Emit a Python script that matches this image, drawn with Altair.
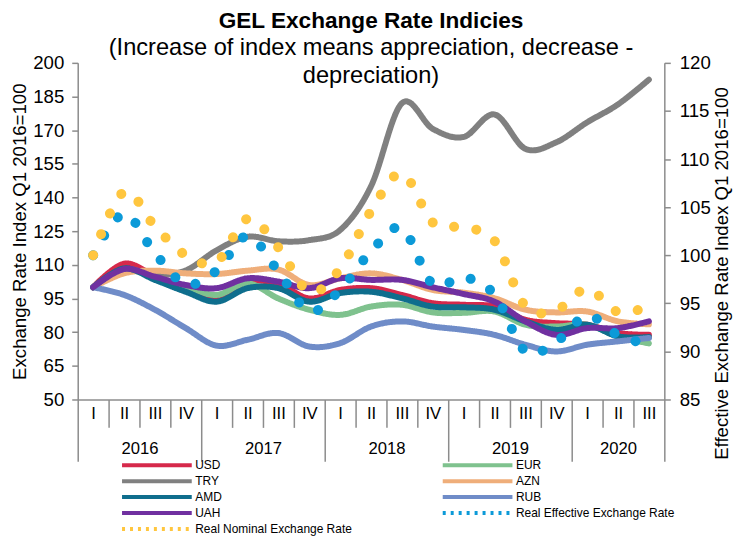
import altair as alt
import pandas as pd

# ---------------- data ----------------
quarters = ["I", "II", "III", "IV", "I", "II", "III", "IV", "I", "II", "III", "IV",
            "I", "II", "III", "IV", "I", "II", "III"]
years = ["2016", "2017", "2018", "2019", "2020"]
year_centers = [2, 6, 10, 14, 17.5]

usd = [100, 110.5, 105, 99.5, 95, 102.5, 101.5, 95, 98.8, 99.6, 96.6, 92.9, 92.2, 91.4, 85.5, 84, 83.3, 79.6, 78.8]
eur = [100, 108, 104.5, 100.3, 96.6, 101.8, 95, 90, 87.7, 91.4, 92.2, 88.8, 88.6, 89.2, 83.3, 82.5, 83.3, 78.1, 75]
try_ = [100, 107.5, 105.5, 107.5, 116.5, 122.5, 120.5, 121, 125.5, 145, 182, 170.6, 167, 177, 161.7, 164.6, 173.5, 181.5, 192.5]
azn = [100, 106.2, 107.4, 106.2, 105.9, 107.4, 107.9, 101, 104, 106.2, 103.3, 98.8, 97.6, 95.1, 90, 88.8, 89.2, 84.8, 83.5]
amd = [100, 108.4, 103.3, 98, 93.6, 99.6, 99.6, 93.6, 97.4, 98, 95.1, 91.4, 91.1, 90, 84.8, 81, 83.3, 78.1, 77.8]
rub = [100, 96.6, 90, 81.8, 74, 76.6, 79.6, 73.6, 75.1, 82.5, 84.8, 82.5, 81, 78.8, 74.4, 71.4, 74.4, 75.9, 77.4]
uah = [100, 108.1, 104.7, 101, 99.6, 104, 102.5, 99.6, 104, 103.3, 103.3, 100, 97, 93.6, 84.8, 78.8, 81.8, 81.8, 84.8]
real_eff = [100, 104.3, 100.2, 97.0, 98.4, 102.0, 98.3, 94.2, 96.4, 100.4, 102.8, 97.0, 97.7, 95.9, 90.0, 91.0, 93.7, 91.7, 90.7]
real_nom = [100, 106.6, 103.0, 100.0, 99.3, 103.8, 100.8, 96.2, 98.6, 104.6, 108.5, 103.4, 102.9, 101.5, 94.7, 94.3, 96.5, 94.1, 94.7]

# legend order (filled column by column)
legend_names = ["USD", "TRY", "AMD", "UAH", "Real Nominal Exchange Rate",
                "EUR", "AZN", "RUB", "Real Effective Exchange Rate"]
legend_colors = ["#D6294B", "#808080", "#0F6E8D", "#7030A0", "#FFC63F",
                 "#7FC28E", "#EFAE7A", "#6F8CC8", "#0C9AD8"]
legend_dashes = [[1, 0], [1, 0], [1, 0], [1, 0], [3, 5],
                 [1, 0], [1, 0], [1, 0], [3, 5]]

# drawing order (later on top)
solid = {"USD": usd, "EUR": eur, "TRY": try_, "AZN": azn, "AMD": amd, "RUB": rub, "UAH": uah}
dotted = {"Real Effective Exchange Rate": real_eff, "Real Nominal Exchange Rate": real_nom}


def frame(d):
    rows = []
    for name, vals in d.items():
        for i, v in enumerate(vals):
            rows.append({"series": name, "pos": i + 0.5, "value": v})
    return pd.DataFrame(rows)


lines_df = frame(solid)
dots_df = frame(dotted)

FONT = "Liberation Sans"
AXIS_GRAY = "#8C8C8C"
W, H = 589, 338

xscale = alt.Scale(domain=[0, len(quarters)], nice=False, zero=False)
color_scale = alt.Scale(domain=legend_names, range=legend_colors)
dash_scale = alt.Scale(domain=legend_names, range=legend_dashes)

# wide, flat custom legend symbol (path in [-10,10] units, scaled by sqrt(size)/2 = 3.5)
legend = alt.Legend(
    title=None, orient="none", legendX=73.5, legendY=398, columns=2, columnPadding=83,
    symbolType="M-10,0L10,0", symbolSize=49, symbolStrokeWidth=4, labelFont=FONT,
    labelFontSize=12, labelColor="#000", labelOffset=32.5, rowPadding=0, labelLimit=400,
)

long_tick = "datum.value % 4 == 0 || datum.value == 19"
q_label_expr = "[" + ",".join("'%s'" % q for q in quarters) + ",''][floor(datum.value)]"
quarter_axis = alt.Axis(
    orient="bottom", values=list(range(len(quarters) + 1)), labelExpr=q_label_expr,
    labelOffset=15.5, labelFont=FONT, labelFontSize=16.7, labelColor="#000",
    labelPadding={"condition": {"test": long_tick, "value": -56}, "value": -22},
    tickColor=AXIS_GRAY, tickWidth=1.5, domainColor=AXIS_GRAY, domainWidth=1.5,
    tickSize={"condition": {"test": long_tick, "value": 62}, "value": 28},
    title=None, grid=False, labelFlush=False, labelOverlap=False,
)
yr_expr = " : ".join("datum.value == %s ? '%s'" % (c, y) for c, y in zip(year_centers, years)) + " : ''"
year_axis = alt.Axis(
    orient="bottom", values=year_centers, labelExpr=yr_expr, ticks=False, domain=False,
    labelPadding=41, labelFont=FONT, labelFontSize=16.7, labelColor="#000",
    title=None, grid=False, labelFlush=False, labelOverlap=False,
)

left_axis = alt.Axis(
    orient="left", values=list(range(50, 201, 15)), title="Exchange Rate Index Q1 2016=100",
    titleFont=FONT, titleFontSize=18.7, titleFontWeight="normal", titleColor="#000",
    titleAngle=270, titleX=-58, titleY=169, titleAlign="center", titleBaseline="middle",
    labelFont=FONT, labelFontSize=18.7, labelColor="#000", labelPadding=8,
    tickColor=AXIS_GRAY, tickSize=6, tickWidth=1.5, domainColor=AXIS_GRAY, domainWidth=1.5,
    grid=False, labelFlush=False,
)
right_axis = alt.Axis(
    orient="right", values=list(range(85, 121, 5)), title="Effective Exchange Rate Index Q1 2016=100",
    titleFont=FONT, titleFontSize=18.7, titleFontWeight="normal", titleColor="#000",
    titleAngle=270, titleX=57, titleY=211, titleAlign="center", titleBaseline="middle",
    labelFont=FONT, labelFontSize=18.7, labelColor="#000", labelPadding=9,
    tickColor=AXIS_GRAY, tickSize=6, tickWidth=1.5, domainColor=AXIS_GRAY, domainWidth=1.5,
    grid=False, labelFlush=False,
)

lines = alt.Chart(lines_df).mark_line(
    interpolate="cardinal", strokeWidth=6, strokeCap="round", strokeJoin="round"
).encode(
    x=alt.X("pos:Q", scale=xscale, axis=quarter_axis),
    y=alt.Y("value:Q", scale=alt.Scale(domain=[50, 200], nice=False, zero=False), axis=left_axis),
    color=alt.Color("series:N", scale=color_scale, legend=legend),
    strokeDash=alt.StrokeDash("series:N", scale=dash_scale, legend=legend),
)

dots = alt.Chart(dots_df).mark_line(
    interpolate="cardinal", strokeWidth=10, strokeCap="round", strokeDash=[0.1, 22.5]
).encode(
    x=alt.X("pos:Q", scale=xscale, axis=year_axis),
    y=alt.Y("value:Q", scale=alt.Scale(domain=[85, 120], nice=False, zero=False), axis=right_axis),
    color=alt.Color("series:N", scale=color_scale, legend=legend),
)

one = alt.Data(values=[{}])
title = alt.Chart(one).mark_text(
    font=FONT, fontSize=22.7, fontWeight="bold", color="#000", align="center", baseline="alphabetic"
).encode(x=alt.value(W / 2), y=alt.value(-35), text=alt.value("GEL Exchange Rate Indicies"))
sub1 = alt.Chart(one).mark_text(
    font=FONT, fontSize=23.7, color="#000", align="center", baseline="alphabetic"
).encode(x=alt.value(W / 2), y=alt.value(-8),
         text=alt.value("(Increase of index means appreciation, decrease -"))
sub2 = alt.Chart(one).mark_text(
    font=FONT, fontSize=23.7, color="#000", align="center", baseline="alphabetic"
).encode(x=alt.value(W / 2), y=alt.value(20), text=alt.value("depreciation)"))

chart = alt.layer(lines, dots, title, sub1, sub2).resolve_scale(
    y="independent"
).resolve_axis(x="independent", y="independent").properties(
    width=W, height=H,
    autosize=alt.AutoSizeParams(type="none"),
    padding={"left": 70, "top": 54, "right": 80, "bottom": 140},
).configure_view(stroke=None)

chart.save("out.html", embed_options={"renderer": "svg", "actions": False})
